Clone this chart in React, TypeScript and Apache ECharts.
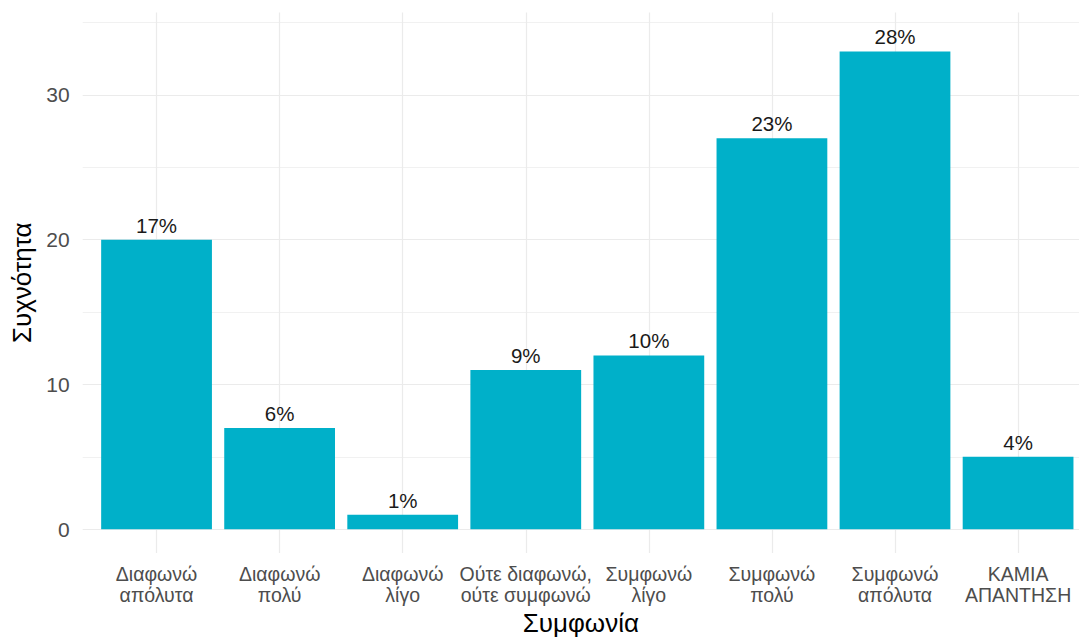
import React, { useEffect, useRef } from "react";
import * as echarts from "echarts";

const categories = [
  "Διαφωνώ\nαπόλυτα",
  "Διαφωνώ\nπολύ",
  "Διαφωνώ\nλίγο",
  "Ούτε διαφωνώ,\nούτε συμφωνώ",
  "Συμφωνώ\nλίγο",
  "Συμφωνώ\nπολύ",
  "Συμφωνώ\nαπόλυτα",
  "ΚΑΜΙΑ\nΑΠΑΝΤΗΣΗ",
];
const counts = [20, 7, 1, 11, 12, 27, 33, 5];
const percentLabels = ["17%", "6%", "1%", "9%", "10%", "23%", "28%", "4%"];
const yTickValues = [0, 10, 20, 30];
const yMinorValues = [5, 15, 25, 35];
const xTitle = "Συμφωνία";
const yTitle = "Συχνότητα";

const FONT = "'Liberation Sans', Arial, Helvetica, sans-serif";
const GRID = "#EBEBEB";

export default function App() {
  const ref = useRef<HTMLDivElement>(null);

  useEffect(() => {
    document.body.style.margin = "0";
    if (!ref.current) return;
    const chart = echarts.init(ref.current, undefined, { renderer: "svg" });
    const xPositions = categories.map((_, i) => i + 1);

    const gridLines: any[] = [];
    yTickValues.forEach((v) =>
      gridLines.push({ yAxis: v, lineStyle: { color: GRID, width: 1.2, type: "solid" } })
    );
    yMinorValues.forEach((v) =>
      gridLines.push({ yAxis: v, lineStyle: { color: GRID, width: 0.7, type: "solid" } })
    );
    xPositions.forEach((v) =>
      gridLines.push({ xAxis: v, lineStyle: { color: GRID, width: 1.2, type: "solid" } })
    );

    chart.setOption({
      animation: false,
      backgroundColor: "#FFFFFF",
      textStyle: { fontFamily: FONT },
      grid: { left: 82.7, right: 0, top: 12.4, bottom: 87, containLabel: false },
      xAxis: {
        type: "value",
        min: 0.4,
        max: 8.495,
        axisLine: { show: false },
        axisTick: { show: false },
        splitLine: { show: false },
        axisLabel: {
          customValues: xPositions,
          formatter: (v: number) => categories[Math.round(v) - 1] ?? "",
          color: "#4D4D4D",
          fontSize: 19.5,
          lineHeight: 21,
          margin: 10,
          fontFamily: FONT,
        },
        name: xTitle,
        nameLocation: "middle",
        nameGap: 56,
        nameTextStyle: { color: "#000000", fontSize: 26, fontFamily: FONT },
      },
      yAxis: {
        type: "value",
        min: -1.65,
        max: 35.7,
        axisLine: { show: false },
        axisTick: { show: false },
        splitLine: { show: false },
        axisLabel: {
          customValues: yTickValues,
          color: "#4D4D4D",
          fontSize: 21,
          margin: 13,
          fontFamily: FONT,
        },
        name: yTitle,
        nameLocation: "middle",
        nameGap: 47,
        nameTextStyle: { color: "#000000", fontSize: 26, fontFamily: FONT },
      },
      series: [
        {
          type: "bar",
          z: 2,
          barWidth: "90%",
          itemStyle: { color: "#00B0C9" },
          data: counts.map((c, i) => [xPositions[i], c]),
          label: {
            show: true,
            position: "top",
            distance: 4,
            color: "#1A1A1A",
            fontSize: 20.5,
            fontFamily: FONT,
            formatter: (p: any) => percentLabels[p.dataIndex],
          },
          markLine: {
            silent: true,
            z: 1,
            symbol: ["none", "none"],
            label: { show: false },
            emphasis: { disabled: true },
            data: gridLines,
          },
        },
      ],
    });
    return () => chart.dispose();
  }, []);

  return <div ref={ref} style={{ width: 1079, height: 641 }} />;
}
